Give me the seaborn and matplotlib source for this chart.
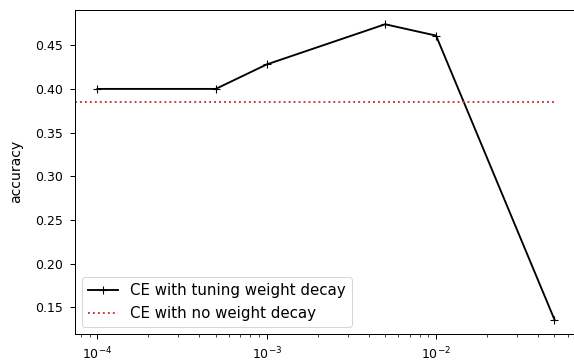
import matplotlib
matplotlib.use("Agg")
import matplotlib.pyplot as plt
import seaborn as sns
import pandas as pd

# weight decay sweep results
weight_decay = [1e-4, 5e-4, 1e-3, 5e-3, 1e-2, 5e-2]
accuracy_tuned = [0.400, 0.400, 0.428, 0.474, 0.461, 0.136]
accuracy_no_wd = 0.385

df = pd.DataFrame({"weight_decay": weight_decay, "accuracy": accuracy_tuned})

scale = 1.25
plt.rcParams.update({
    "font.size": 10 * scale,
    "axes.labelsize": 14,
    "axes.linewidth": 0.8 * scale,
    "xtick.major.size": 5,
    "ytick.major.size": 5,
    "xtick.minor.size": 3,
    "xtick.major.pad": 6,
    "ytick.major.pad": 7,
    "xtick.major.width": 0.8 * scale,
    "ytick.major.width": 0.8 * scale,
    "xtick.minor.width": 0.6 * scale,
    "legend.fontsize": 15,
})

fig = plt.figure(figsize=(574 / 72, 362 / 72), dpi=72)
ax = fig.add_axes([74.5 / 574, 27.7 / 362, 502.8 / 574, 324.8 / 362])
ax.set_xscale("log")

sns.lineplot(data=df, x="weight_decay", y="accuracy", ax=ax, color="black",
             marker="+", markersize=8, markeredgewidth=1.1,
             markeredgecolor="black", markerfacecolor="black",
             linewidth=1.5 * scale, label="CE with tuning weight decay")

xlim = ax.get_xlim()
ax.hlines(accuracy_no_wd, xmin=xlim[0], xmax=weight_decay[-1], colors="#cc3333",
          linestyles=":", linewidth=1.5 * scale, label="CE with no weight decay")
ax.set_xlim(xlim)

ax.set_xlabel("")
ax.set_ylabel("accuracy", labelpad=11)
ax.legend(loc="lower left")

fig.savefig("out.png", dpi=72)
